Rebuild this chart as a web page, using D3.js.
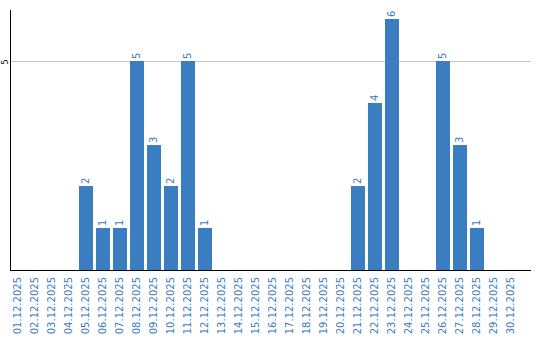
<!DOCTYPE html>
<html>
<head>
<meta charset="utf-8">
<script src="https://cdn.jsdelivr.net/npm/d3@7"></script>
<style>
  html, body { margin: 0; padding: 0; background: #fff; }
  svg { display: block; }
</style>
</head>
<body>
<div id="chart"></div>
<script>
// daily counts, December 2025
const days = [
  "01.12.2025","02.12.2025","03.12.2025","04.12.2025","05.12.2025","06.12.2025",
  "07.12.2025","08.12.2025","09.12.2025","10.12.2025","11.12.2025","12.12.2025",
  "13.12.2025","14.12.2025","15.12.2025","16.12.2025","17.12.2025","18.12.2025",
  "19.12.2025","20.12.2025","21.12.2025","22.12.2025","23.12.2025","24.12.2025",
  "25.12.2025","26.12.2025","27.12.2025","28.12.2025","29.12.2025","30.12.2025"
];
const counts = [0,0,0,0,2,1,1,5,3,2,5,1,0,0,0,0,0,0,0,0,2,4,6,0,0,5,3,1,0,0];
const yTicks = [5];

const BLUE = "#3b7dc1";
const width = 540, height = 340;

const svg = d3.select("#chart").append("svg")
  .attr("width", width)
  .attr("height", height);

const x = d3.scaleBand()
  .domain(days)
  .range([9.5, 519.5])
  .paddingInner(0.18)
  .paddingOuter(0.09);

const y = d3.scaleLinear()
  .domain([0, 6.22])
  .range([270, 10]);

// gridlines
svg.append("g")
  .selectAll("line")
  .data(yTicks)
  .join("line")
  .attr("x1", 11).attr("x2", 531)
  .attr("y1", d => Math.round(y(d)) + 0.5)
  .attr("y2", d => Math.round(y(d)) + 0.5)
  .attr("stroke", "#c8c8c8");

// y tick labels (rotated)
svg.append("g")
  .selectAll("text")
  .data(yTicks)
  .join("text")
  .attr("transform", d => `translate(8,${Math.round(y(d)) + 1}) rotate(-90)`)
  .attr("text-anchor", "middle")
  .attr("font-family", "DejaVu Sans")
  .attr("font-size", 8)
  .attr("fill", "#000")
  .text(d => d);

// bars
const data = days.map((d, i) => ({ day: d, v: counts[i] }));
svg.append("g")
  .selectAll("rect")
  .data(data.filter(d => d.v > 0))
  .join("rect")
  .attr("x", d => Math.round(x(d.day)))
  .attr("y", d => Math.round(y(d.v)))
  .attr("width", Math.round(x.bandwidth()))
  .attr("height", d => 270 - Math.round(y(d.v)))
  .attr("fill", BLUE);

// value labels
svg.append("g")
  .selectAll("text")
  .data(data.filter(d => d.v > 0))
  .join("text")
  .attr("transform", d => `translate(${Math.round(x(d.day)) + x.bandwidth() / 2 + 3},${Math.round(y(d.v)) - 2}) rotate(-90)`)
  .attr("text-anchor", "start")
  .attr("font-family", "DejaVu Sans")
  .attr("font-size", 10)
  .attr("fill", BLUE)
  .text(d => d.v);

// axes lines
svg.append("line")
  .attr("x1", 10.5).attr("x2", 10.5)
  .attr("y1", 10).attr("y2", 271)
  .attr("stroke", "#000");
svg.append("line")
  .attr("x1", 10).attr("x2", 531)
  .attr("y1", 270.5).attr("y2", 270.5)
  .attr("stroke", "#000");

// x labels (rotated)
svg.append("g")
  .selectAll("text")
  .data(days)
  .join("text")
  .attr("transform", d => `translate(${Math.round(x(d)) + x.bandwidth() / 2 + 3.5},277) rotate(-90)`)
  .attr("text-anchor", "end")
  .attr("font-family", "DejaVu Sans")
  .attr("font-size", 10)
  .attr("fill", BLUE)
  .text(d => d);
</script>
</body>
</html>
